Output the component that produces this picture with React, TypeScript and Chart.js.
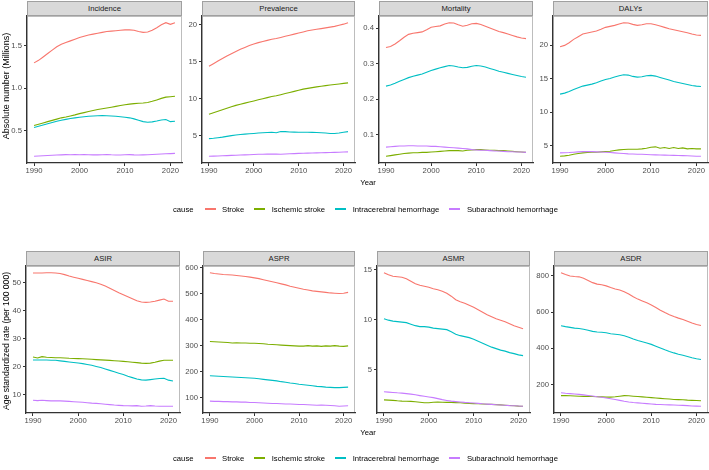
import React, { useEffect, useRef } from "react";
import { Chart, registerables } from "chart.js";
Chart.register(...registerables);

const years = [1990, 1991, 1992, 1993, 1994, 1995, 1996, 1997, 1998, 1999, 2000, 2001, 2002, 2003, 2004, 2005, 2006, 2007, 2008, 2009, 2010, 2011, 2012, 2013, 2014, 2015, 2016, 2017, 2018, 2019, 2020, 2021];
const xTicks = [1990, 2000, 2010, 2020];
const causes = ["Stroke", "Ischemic stroke", "Intracerebral hemorrhage", "Subarachnoid hemorrhage"];
const causeColors = ["#F8766D", "#7CAE00", "#00BFC4", "#C77CFF"];

// Incidence (millions)
const incStroke = [1.30, 1.33, 1.37, 1.41, 1.45, 1.49, 1.52, 1.54, 1.56, 1.58, 1.60, 1.615, 1.63, 1.64, 1.65, 1.66, 1.67, 1.675, 1.68, 1.685, 1.69, 1.69, 1.685, 1.67, 1.66, 1.665, 1.685, 1.715, 1.75, 1.775, 1.755, 1.775];
const incIsch = [0.56, 0.575, 0.59, 0.605, 0.62, 0.635, 0.65, 0.66, 0.672, 0.685, 0.70, 0.712, 0.725, 0.737, 0.748, 0.758, 0.767, 0.776, 0.785, 0.795, 0.805, 0.812, 0.818, 0.822, 0.826, 0.832, 0.845, 0.862, 0.88, 0.895, 0.90, 0.905];
const incICH = [0.535, 0.55, 0.565, 0.58, 0.595, 0.61, 0.622, 0.632, 0.642, 0.65, 0.657, 0.663, 0.668, 0.672, 0.675, 0.676, 0.675, 0.672, 0.668, 0.663, 0.657, 0.65, 0.638, 0.622, 0.605, 0.598, 0.602, 0.612, 0.625, 0.63, 0.605, 0.61];
const incSAH = [0.195, 0.198, 0.202, 0.205, 0.208, 0.21, 0.212, 0.215, 0.213, 0.216, 0.214, 0.215, 0.213, 0.212, 0.212, 0.214, 0.217, 0.213, 0.211, 0.21, 0.214, 0.215, 0.212, 0.211, 0.212, 0.214, 0.216, 0.219, 0.222, 0.225, 0.227, 0.23];
const incTicks = [0.5, 1.0, 1.5];

// Prevalence (millions)
const prevStroke = [14.4, 14.75, 15.1, 15.45, 15.8, 16.1, 16.4, 16.7, 16.95, 17.2, 17.4, 17.6, 17.75, 17.9, 18.05, 18.15, 18.3, 18.45, 18.6, 18.75, 18.9, 19.05, 19.2, 19.3, 19.4, 19.5, 19.6, 19.7, 19.8, 19.95, 20.1, 20.3];
const prevIsch = [7.9, 8.1, 8.3, 8.5, 8.7, 8.9, 9.1, 9.25, 9.4, 9.55, 9.7, 9.85, 10.0, 10.15, 10.3, 10.4, 10.55, 10.7, 10.85, 11.0, 11.15, 11.3, 11.4, 11.5, 11.6, 11.7, 11.78, 11.85, 11.92, 12.0, 12.08, 12.15];
const prevICH = [4.6, 4.65, 4.72, 4.8, 4.9, 5.0, 5.08, 5.15, 5.2, 5.25, 5.3, 5.35, 5.4, 5.42, 5.45, 5.4, 5.55, 5.55, 5.5, 5.48, 5.47, 5.46, 5.45, 5.44, 5.42, 5.4, 5.35, 5.3, 5.3, 5.35, 5.45, 5.55];
const prevSAH = [2.2, 2.22, 2.25, 2.28, 2.3, 2.33, 2.35, 2.38, 2.4, 2.42, 2.45, 2.47, 2.48, 2.5, 2.5, 2.5, 2.48, 2.52, 2.55, 2.57, 2.6, 2.62, 2.63, 2.65, 2.67, 2.69, 2.7, 2.72, 2.74, 2.76, 2.78, 2.8];
const prevTicks = [5, 10, 15, 20];

// Mortality (millions)
const mortStroke = [0.346, 0.349, 0.356, 0.365, 0.375, 0.383, 0.386, 0.388, 0.390, 0.396, 0.403, 0.405, 0.407, 0.412, 0.416, 0.415, 0.410, 0.406, 0.409, 0.413, 0.414, 0.411, 0.406, 0.401, 0.396, 0.391, 0.388, 0.384, 0.380, 0.376, 0.373, 0.371];
const mortIsch = [0.039, 0.041, 0.043, 0.045, 0.047, 0.048, 0.049, 0.049, 0.050, 0.050, 0.051, 0.052, 0.053, 0.054, 0.055, 0.055, 0.055, 0.054, 0.056, 0.057, 0.058, 0.058, 0.057, 0.056, 0.056, 0.055, 0.055, 0.054, 0.053, 0.052, 0.051, 0.050];
const mortICH = [0.237, 0.240, 0.245, 0.251, 0.256, 0.261, 0.265, 0.268, 0.271, 0.276, 0.281, 0.285, 0.289, 0.292, 0.295, 0.294, 0.291, 0.289, 0.290, 0.293, 0.295, 0.294, 0.291, 0.287, 0.283, 0.279, 0.276, 0.273, 0.270, 0.267, 0.264, 0.262];
const mortSAH = [0.065, 0.066, 0.067, 0.068, 0.068, 0.069, 0.069, 0.068, 0.068, 0.068, 0.067, 0.067, 0.066, 0.065, 0.064, 0.063, 0.062, 0.061, 0.060, 0.058, 0.057, 0.056, 0.056, 0.055, 0.054, 0.054, 0.053, 0.052, 0.052, 0.051, 0.051, 0.050];
const mortTicks = [0.1, 0.2, 0.3, 0.4];

// DALYs (millions)
const dalyStroke = [19.8, 20.0, 20.4, 20.9, 21.3, 21.7, 21.85, 22.0, 22.15, 22.4, 22.7, 22.85, 23.0, 23.2, 23.4, 23.35, 23.15, 23.0, 23.1, 23.25, 23.25, 23.1, 22.9, 22.7, 22.5, 22.35, 22.2, 22.05, 21.9, 21.7, 21.55, 21.5];
const dalyIsch = [3.4, 3.45, 3.55, 3.7, 3.8, 3.9, 3.95, 4.0, 4.0, 4.05, 4.1, 4.15, 4.25, 4.35, 4.4, 4.45, 4.45, 4.45, 4.5, 4.6, 4.75, 4.8, 4.6, 4.7, 4.55, 4.7, 4.55, 4.65, 4.5, 4.55, 4.5, 4.5];
const dalyICH = [12.7, 12.85, 13.1, 13.4, 13.65, 13.9, 14.05, 14.2, 14.4, 14.65, 14.9, 15.05, 15.25, 15.45, 15.6, 15.55, 15.35, 15.25, 15.3, 15.45, 15.5, 15.4, 15.2, 15.0, 14.8, 14.6, 14.45, 14.3, 14.15, 14.0, 13.9, 13.85];
const dalySAH = [3.9, 3.92, 3.95, 4.0, 4.05, 4.08, 4.1, 4.08, 4.05, 4.02, 4.0, 3.95, 3.9, 3.85, 3.8, 3.75, 3.72, 3.7, 3.68, 3.65, 3.62, 3.6, 3.58, 3.56, 3.55, 3.52, 3.5, 3.48, 3.46, 3.43, 3.4, 3.38];
const dalyTicks = [5, 10, 15, 20];

// ASIR
const asirStroke = [53.4, 53.4, 53.4, 53.5, 53.5, 53.4, 53.2, 52.8, 52.3, 51.9, 51.5, 51.1, 50.7, 50.3, 49.9, 49.4, 48.7, 47.9, 47.1, 46.3, 45.6, 44.9, 44.2, 43.5, 43.0, 42.9, 43.0, 43.3, 43.7, 44.1, 43.3, 43.3];
const asirIsch = [23.4, 23.0, 23.5, 23.3, 23.2, 23.1, 23.1, 23.0, 22.9, 22.85, 22.8, 22.75, 22.65, 22.55, 22.45, 22.35, 22.25, 22.15, 22.05, 21.95, 21.8, 21.65, 21.5, 21.35, 21.2, 21.1, 21.2, 21.5, 21.9, 22.2, 22.2, 22.2];
const asirICH = [22.3, 22.3, 22.3, 22.3, 22.2, 22.2, 22.0, 21.8, 21.6, 21.4, 21.2, 21.0, 20.7, 20.4, 20.0, 19.6, 19.1, 18.6, 18.1, 17.6, 17.1, 16.5, 16.0, 15.5, 15.2, 15.1, 15.3, 15.5, 15.7, 15.8, 15.1, 14.8];
const asirSAH = [7.9, 7.8, 7.9, 7.8, 7.7, 7.7, 7.7, 7.6, 7.5, 7.4, 7.3, 7.2, 7.05, 6.9, 6.8, 6.65, 6.5, 6.35, 6.2, 6.1, 6.0, 5.95, 5.9, 6.0, 5.8, 5.85, 6.0, 5.85, 5.8, 5.75, 5.8, 5.8];
const asirTicks = [10, 20, 30, 40, 50];

// ASPR
const asprStroke = [581, 578, 576, 574, 573, 572, 570, 568, 566, 564, 561, 558, 554, 550, 546, 542, 538, 534, 529, 525, 521, 517, 514, 511, 509, 507, 505, 503, 502, 501, 502, 505];
const asprIsch = [316, 315, 314, 313, 312, 310, 311, 310, 310, 309, 309, 308, 307, 305, 304, 303, 302, 301, 300, 299, 298, 298, 300, 298, 299, 297, 299, 298, 300, 298, 297, 299];
const asprICH = [184, 183, 182, 181, 180, 179, 178, 177, 176, 175, 174, 172, 170, 168, 166, 164, 161, 159, 156, 154, 151, 149, 147, 145, 143, 142, 140, 139, 138, 138, 139, 140];
const asprSAH = [86, 85, 85, 84, 84, 83, 83, 82, 82, 81, 81, 80, 79, 78, 77, 77, 76, 75, 75, 74, 73, 73, 72, 71, 70, 71, 70, 69, 68, 66, 67, 68];
const asprTicks = [100, 200, 300, 400, 500, 600];

// ASMR
const asmrStroke = [14.7, 14.5, 14.35, 14.3, 14.25, 14.1, 13.85, 13.6, 13.45, 13.35, 13.25, 13.1, 13.0, 12.85, 12.65, 12.35, 12.0, 11.8, 11.65, 11.45, 11.25, 11.0, 10.75, 10.5, 10.3, 10.1, 9.95, 9.8, 9.6, 9.4, 9.25, 9.1];
const asmrIsch = [1.97, 1.95, 1.92, 1.88, 1.85, 1.84, 1.82, 1.78, 1.74, 1.68, 1.68, 1.73, 1.76, 1.74, 1.72, 1.72, 1.70, 1.68, 1.65, 1.62, 1.6, 1.58, 1.56, 1.54, 1.52, 1.5, 1.47, 1.44, 1.41, 1.38, 1.35, 1.33];
const asmrICH = [10.1, 9.95, 9.85, 9.8, 9.75, 9.7, 9.55, 9.4, 9.3, 9.3, 9.25, 9.15, 9.1, 9.05, 9.0, 8.8, 8.55, 8.4, 8.3, 8.2, 8.05, 7.85, 7.65, 7.45, 7.25, 7.1, 6.95, 6.85, 6.7, 6.6, 6.48, 6.4];
const asmrSAH = [2.78, 2.75, 2.72, 2.68, 2.65, 2.6, 2.55, 2.48, 2.4, 2.33, 2.27, 2.2, 2.1, 2.0, 1.92, 1.85, 1.8, 1.76, 1.72, 1.69, 1.66, 1.62, 1.58, 1.55, 1.52, 1.49, 1.46, 1.43, 1.40, 1.38, 1.36, 1.33];
const asmrTicks = [5, 10, 15];

// ASDR
const asdrStroke = [818, 808, 800, 797, 795, 787, 775, 763, 755, 751, 745, 736, 728, 722, 713, 700, 685, 672, 662, 652, 640, 626, 611, 598, 586, 576, 567, 560, 550, 540, 532, 526];
const asdrIsch = [139, 139, 138, 137, 136, 135, 135, 134, 133, 132, 131, 131, 133, 136, 139, 138, 136, 134, 132, 130, 128, 126, 124, 122, 120, 118, 117, 116, 114, 113, 112, 111];
const asdrICH = [525, 520, 516, 512, 510, 506, 500, 494, 490, 489, 486, 481, 478, 475, 470, 462, 452, 444, 437, 430, 422, 412, 402, 392, 383, 375, 368, 362, 355, 348, 343, 339];
const asdrSAH = [155, 152, 150, 148, 146, 143, 140, 137, 133, 130, 126, 122, 118, 113, 108, 104, 101, 99, 97, 95, 93, 91, 90, 89, 88, 87, 86, 85, 84, 82, 81, 80];
const asdrTicks = [200, 400, 600, 800];

const W = 709;
const H = 470;
const YW = 25;
const XH = 16;
const FONT = "'Liberation Sans', Arial, Helvetica, sans-serif";

type PanelDef = {
  title: string;
  series: number[][];
  ticks: number[];
  decimals: number;
  L: number; R: number; T: number; B: number;
};

const panels: PanelDef[] = [
  { title: "Incidence", series: [incStroke, incIsch, incICH, incSAH], ticks: incTicks, decimals: 1, L: 27, R: 182, T: 16, B: 163 },
  { title: "Prevalence", series: [prevStroke, prevIsch, prevICH, prevSAH], ticks: prevTicks, decimals: 0, L: 202, R: 355, T: 16, B: 163 },
  { title: "Mortality", series: [mortStroke, mortIsch, mortICH, mortSAH], ticks: mortTicks, decimals: 1, L: 379, R: 533, T: 16, B: 163 },
  { title: "DALYs", series: [dalyStroke, dalyIsch, dalyICH, dalySAH], ticks: dalyTicks, decimals: 0, L: 553, R: 708, T: 16, B: 163 },
  { title: "ASIR", series: [asirStroke, asirIsch, asirICH, asirSAH], ticks: asirTicks, decimals: 0, L: 26, R: 180, T: 266, B: 413 },
  { title: "ASPR", series: [asprStroke, asprIsch, asprICH, asprSAH], ticks: asprTicks, decimals: 0, L: 203, R: 355, T: 266, B: 413 },
  { title: "ASMR", series: [asmrStroke, asmrIsch, asmrICH, asmrSAH], ticks: asmrTicks, decimals: 0, L: 377, R: 530, T: 266, B: 413 },
  { title: "ASDR", series: [asdrStroke, asdrIsch, asdrICH, asdrSAH], ticks: asdrTicks, decimals: 0, L: 554, R: 708, T: 266, B: 413 },
];

const panelBorder = {
  id: "panelBorder",
  beforeDraw(chart: any) {
    const { ctx, chartArea: a } = chart;
    ctx.save();
    ctx.strokeStyle = "#BDBDBD";
    ctx.lineWidth = 1;
    ctx.strokeRect(a.left + 0.5, a.top + 0.5, a.right - a.left - 1, a.bottom - a.top - 1);
    ctx.restore();
  },
};

function Panel({ def }: { def: PanelDef }) {
  const ref = useRef<HTMLCanvasElement>(null);
  useEffect(() => {
    const { L, R, T, B } = def;
    const all = def.series.flat();
    const lo = Math.min(...all);
    const hi = Math.max(...all);
    const pad = (hi - lo) * 0.05;
    const tickFont = { family: FONT, size: 7.7 };
    const chart = new Chart(ref.current as HTMLCanvasElement, {
      type: "line",
      data: {
        datasets: def.series.map((s, i) => ({
          label: causes[i],
          data: s.map((v, j) => ({ x: years[j], y: v })),
          borderColor: causeColors[i],
          backgroundColor: causeColors[i],
          borderWidth: 1.1,
          pointRadius: 0,
          tension: 0,
          fill: false,
          order: 3 - i,
        })),
      },
      options: {
        responsive: false,
        animation: false,
        events: [],
        layout: { padding: { left: L - YW, right: W - R, top: T, bottom: H - B - XH } },
        plugins: { legend: { display: false }, tooltip: { enabled: false }, title: { display: false } },
        scales: {
          x: {
            type: "linear",
            min: 1988.45,
            max: 2022.55,
            afterBuildTicks: (s: any) => { s.ticks = xTicks.map((v) => ({ value: v })); },
            afterFit: (s: any) => { s.height = XH; },
            ticks: { font: tickFont, color: "#4D4D4D", padding: 0, maxRotation: 0, autoSkip: false, callback: (v: any) => String(v) },
            grid: { display: true, drawOnChartArea: false, drawTicks: true, tickLength: 3, color: "#333333", lineWidth: 1 },
            border: { display: true, color: "#333333", width: 1.2 },
          },
          y: {
            type: "linear",
            min: lo - pad,
            max: hi + pad,
            afterBuildTicks: (s: any) => { s.ticks = def.ticks.map((v) => ({ value: v })); },
            afterFit: (s: any) => { s.width = YW; },
            ticks: { font: tickFont, color: "#4D4D4D", padding: 2, autoSkip: false, callback: (v: any) => Number(v).toFixed(def.decimals) },
            grid: { display: true, drawOnChartArea: false, drawTicks: true, tickLength: 3, color: "#333333", lineWidth: 1 },
            border: { display: true, color: "#333333", width: 1.2 },
          },
        },
      } as any,
      plugins: [panelBorder],
    });
    return () => chart.destroy();
  }, [def]);
  return (
    <canvas
      ref={ref}
      width={W}
      height={H}
      style={{ position: "absolute", left: 0, top: 0, width: W, height: H, pointerEvents: "none" }}
    />
  );
}

function Strip({ def }: { def: PanelDef }) {
  return (
    <div
      style={{
        position: "absolute",
        left: def.L,
        top: def.T - 15,
        width: def.R - def.L,
        height: 15,
        boxSizing: "border-box",
        border: "1px solid #A0A0A0",
        background: "#D9D9D9",
        color: "#1A1A1A",
        fontFamily: FONT,
        fontSize: 7.7,
        lineHeight: "13px",
        textAlign: "center",
      }}
    >
      {def.title}
    </div>
  );
}

function Legend({ top }: { top: number }) {
  return (
    <div
      style={{
        position: "absolute",
        left: 173,
        top: top - 6,
        height: 12,
        display: "flex",
        alignItems: "center",
        fontFamily: FONT,
        fontSize: 7.7,
        color: "#000",
        whiteSpace: "nowrap",
      }}
    >
      <span style={{ marginRight: 11 }}>cause</span>
      {causes.map((c, i) => (
        <span key={c} style={{ display: "flex", alignItems: "center", marginRight: i < 3 ? 10 : 0 }}>
          <span style={{ display: "inline-block", width: 11, height: 1.2, background: causeColors[i], marginRight: 6.5 }} />
          <span>{c}</span>
        </span>
      ))}
    </div>
  );
}

function YTitle({ text, cy, size }: { text: string; cy: number; size: number }) {
  return (
    <div
      style={{
        position: "absolute",
        left: 5.5,
        top: cy,
        transform: "translate(-50%, -50%) rotate(-90deg)",
        fontFamily: FONT,
        fontSize: size,
        color: "#000",
        whiteSpace: "nowrap",
      }}
    >
      {text}
    </div>
  );
}

function XTitle({ cy }: { cy: number }) {
  return (
    <div
      style={{
        position: "absolute",
        left: 368,
        top: cy,
        transform: "translate(-50%, -50%)",
        fontFamily: FONT,
        fontSize: 7.7,
        color: "#000",
        whiteSpace: "nowrap",
      }}
    >
      Year
    </div>
  );
}

export default function App() {
  return (
    <div style={{ position: "fixed", left: 0, top: 0, width: W, height: H, background: "#fff", overflow: "hidden" }}>
      {panels.map((p) => (
        <Panel key={p.title} def={p} />
      ))}
      {panels.map((p) => (
        <Strip key={"s" + p.title} def={p} />
      ))}
      <YTitle text="Absolute number (Millions)" cy={86} size={9} />
      <YTitle text="Age standardized rate (per 100 000)" cy={341} size={8.6} />
      <XTitle cy={182} />
      <XTitle cy={432} />
      <Legend top={209} />
      <Legend top={458} />
    </div>
  );
}
